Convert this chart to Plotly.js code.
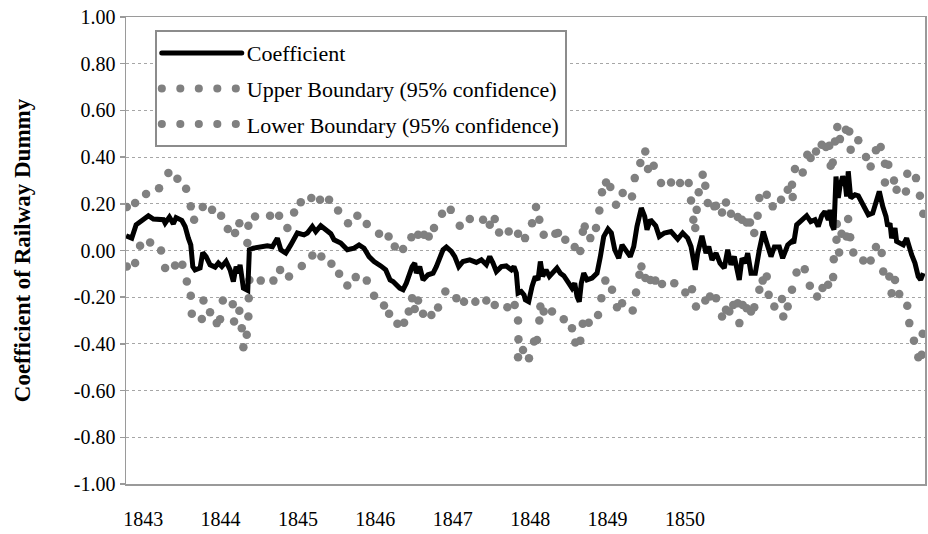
<!DOCTYPE html>
<html>
<head>
<meta charset="utf-8">
<script src="https://cdn.plot.ly/plotly-3.0.1.min.js"></script>
<style>
  html, body { margin: 0; padding: 0; background: #fff; }
  #chart { width: 928px; height: 534px; }
  .legendlines path { stroke-linecap: round; }
</style>
</head>
<body>
<div id="chart"></div>
<script>
// ---- Coefficient of railway dummy (horizontal position = time index) ----
const coefT = [
 1843.000,1843.056,1843.099,1843.138,1843.220,1843.269,1843.368,1843.385,1843.427,1843.466,
 1843.493,1843.549,1843.582,1843.614,1843.638,1843.658,1843.680,1843.730,1843.756,1843.789,
 1843.828,1843.878,1843.910,1843.944,1843.986,1844.026,1844.058,1844.085,1844.108,1844.124,
 1844.141,1844.157,1844.200,1844.216,1844.255,1844.328,1844.393,1844.443,1844.492,1844.526,
 1844.575,1844.624,1844.689,1844.755,1844.788,1844.837,1844.871,1844.920,1844.969,1845.019,
 1845.051,1845.117,1845.182,1845.249,1845.298,1845.347,1845.396,1845.446,1845.512,1845.561,
 1845.604,1845.633,1845.699,1845.732,1845.764,1845.798,1845.821,1845.847,1845.863,1845.896,
 1845.929,1845.978,1846.028,1846.060,1846.094,1846.126,1846.159,1846.208,1846.242,1846.281,
 1846.323,1846.390,1846.455,1846.504,1846.553,1846.587,1846.619,1846.652,1846.701,1846.750,
 1846.800,1846.826,1846.849,1846.866,1846.898,1846.925,1846.938,1846.971,1847.004,1847.036,
 1847.063,1847.086,1847.109,1847.142,1847.175,1847.218,1847.250,1847.283,1847.317,1847.366,
 1847.398,1847.425,1847.448,1847.470,1847.490,1847.514,1847.546,1847.596,1847.645,1847.678,
 1847.711,1847.753,1847.786,1847.820,1847.859,1847.892,1847.931,1847.973,1848.007,1848.039,
 1848.082,1848.115,1848.138,1848.171,1848.224,1848.259,1848.309,1848.375,1848.441,1848.490,
 1848.539,1848.572,1848.614,1848.638,1848.680,1848.720,1848.747,1848.779,1848.819,1848.858,
 1848.900,1848.934,1848.966,1848.999,1849.048,1849.075,1849.107,1849.131,1849.164,1849.206,
 1849.246,1849.285,1849.319,1849.361,1849.394,1849.443,1849.476,1849.526,1849.568,1849.585,
 1849.614,1849.664,1849.713,1849.753,1849.795,1849.827,1849.861,1849.893,1849.926,1849.943,
 1849.960,1849.982,1850.002,1850.025,1850.041,1850.068,1850.091,1850.107,1850.123,1850.147,
 1850.189,1850.222,1850.271,1850.321,1850.364,1850.396,1850.429,1850.463,1850.495,1850.512,
 1850.535,1850.551,1850.584,1850.600,1850.633,1850.666,1850.699,1850.725,1850.748,1850.781,
 1850.813,1850.837,1850.863
];
const coefficient = [
 0.063,0.053,0.110,0.124,0.149,0.135,0.132,0.117,0.143,0.114,
 0.141,0.129,0.103,0.053,0.024,-0.069,-0.083,-0.075,-0.009,-0.026,
 -0.061,-0.071,-0.054,-0.069,-0.047,-0.083,-0.133,-0.069,-0.097,-0.061,
 -0.140,-0.161,-0.171,0.003,0.010,0.015,0.020,0.016,0.053,0.003,
 -0.011,0.024,0.075,0.067,0.075,0.103,0.081,0.106,0.089,0.072,
 0.046,0.032,0.003,0.010,0.024,0.010,-0.026,-0.047,-0.066,-0.083,
 -0.126,-0.133,-0.161,-0.168,-0.140,-0.097,-0.069,-0.054,-0.097,-0.069,
 -0.126,-0.104,-0.097,-0.069,-0.033,0.003,0.015,-0.004,-0.026,-0.069,
 -0.047,-0.040,-0.051,-0.040,-0.061,-0.026,-0.054,-0.090,-0.069,-0.066,
 -0.083,-0.069,-0.097,-0.183,-0.176,-0.190,-0.211,-0.219,-0.154,-0.111,
 -0.126,-0.047,-0.111,-0.083,-0.111,-0.090,-0.075,-0.097,-0.108,-0.140,
 -0.161,-0.140,-0.197,-0.219,-0.140,-0.097,-0.126,-0.118,-0.097,-0.026,
 0.060,0.092,0.075,0.003,-0.033,0.024,0.003,-0.026,0.017,0.103,
 0.182,0.146,0.089,0.132,0.106,0.060,0.075,0.081,0.049,0.075,
 0.053,0.017,-0.083,-0.011,0.063,-0.011,0.017,-0.040,-0.011,-0.054,
 -0.075,0.003,-0.061,-0.026,-0.126,-0.033,-0.054,-0.011,-0.097,-0.097,
 0.003,0.081,0.032,-0.026,0.015,0.015,-0.033,0.024,0.040,0.032,
 0.110,0.132,0.149,0.124,0.132,0.103,0.149,0.167,0.132,0.174,
 0.110,0.089,0.317,0.225,0.274,0.317,0.296,0.231,0.339,0.225,
 0.239,0.234,0.196,0.153,0.160,0.210,0.253,0.189,0.146,0.103,
 0.117,0.053,0.096,0.039,0.032,0.024,0.053,0.003,-0.018,-0.054,
 -0.111,-0.126,-0.097
];

// ---- Upper boundary (95% confidence), as drawn dots ----
const upperT = [
 1843.007,1843.089,1843.197,1843.325,1843.417,1843.506,1843.592,1843.638,1843.671,1843.756,
 1843.848,1843.937,1844.003,1844.075,1844.117,1844.196,1844.206,1844.272,1844.420,1844.509,
 1844.591,1844.657,1844.723,1844.827,1844.913,1845.002,1845.091,1845.189,1845.281,1845.374,
 1845.495,1845.589,1845.650,1845.732,1845.814,1845.880,1845.939,1845.985,1846.037,1846.116,
 1846.202,1846.291,1846.390,1846.521,1846.587,1846.636,1846.679,1846.774,1846.866,1846.935,
 1847.004,1847.043,1847.076,1847.119,1847.234,1847.260,1847.332,1847.425,1847.480,1847.505,
 1847.524,1847.579,1847.635,1847.668,1847.694,1847.734,1847.776,1847.832,1847.898,1847.990,
 1848.017,1848.072,1848.121,1848.148,1848.204,1848.276,1848.375,1848.464,1848.549,1848.572,
 1848.595,1848.614,1848.628,1848.648,1848.687,1848.713,1848.737,1848.802,1848.819,1848.878,
 1848.917,1848.966,1849.033,1849.075,1849.121,1849.154,1849.196,1849.229,1849.246,1849.319,
 1849.378,1849.460,1849.526,1849.568,1849.575,1849.597,1849.674,1849.719,1849.752,1849.805,
 1849.861,1849.903,1849.936,1849.950,1849.970,1849.992,1850.015,1850.041,1850.100,1850.133,
 1850.147,1850.222,1850.298,1850.344,1850.396,1850.443,1850.485,1850.485,1850.518,1850.574,
 1850.600,1850.692,1850.705,1850.791,1850.830,1850.863
];
const upperBoundary = [
 0.186,0.203,0.242,0.267,0.332,0.307,0.264,0.189,0.132,0.186,
 0.174,0.149,0.092,0.075,0.117,0.032,0.106,0.146,0.149,0.149,
 0.096,0.163,0.207,0.225,0.217,0.217,0.171,0.117,0.149,0.113,
 0.072,0.060,0.017,0.006,0.057,0.067,0.067,0.060,0.096,0.157,
 0.174,0.106,0.135,0.132,0.110,0.135,0.077,0.081,0.072,0.053,
 0.117,0.186,0.132,0.067,0.072,0.075,0.046,0.015,-0.002,0.080,
 0.103,0.053,0.096,0.171,0.249,0.291,0.272,0.196,0.246,0.231,
 0.310,0.375,0.424,0.349,0.363,0.289,0.291,0.289,0.289,0.214,
 0.132,0.096,0.174,0.249,0.324,0.277,0.203,0.189,0.192,0.163,
 0.206,0.157,0.143,0.132,0.120,0.120,0.075,0.149,0.225,0.239,
 0.189,0.217,0.260,0.282,0.229,0.349,0.334,0.410,0.396,0.424,
 0.453,0.443,0.449,0.363,0.377,0.467,0.529,0.477,0.517,0.510,
 0.432,0.472,0.400,0.360,0.429,0.443,0.372,0.291,0.367,0.300,
 0.260,0.253,0.329,0.310,0.234,0.157
];

// ---- Lower boundary (95% confidence), as drawn dots ----
const lowerT = [
 1843.007,1843.089,1843.138,1843.237,1843.345,1843.385,1843.483,1843.555,1843.599,1843.638,
 1843.648,1843.747,1843.763,1843.828,1843.894,1843.927,1843.954,1844.052,1844.065,1844.117,
 1844.141,1844.157,1844.190,1844.206,1844.210,1844.216,1844.328,1844.453,1844.519,1844.607,
 1844.733,1844.837,1844.926,1845.025,1845.101,1845.182,1845.265,1845.374,1845.446,1845.544,
 1845.594,1845.676,1845.742,1845.788,1845.821,1845.847,1845.880,1845.929,1846.011,1846.077,
 1846.149,1846.258,1846.333,1846.445,1846.553,1846.636,1846.761,1846.833,1846.866,1846.870,
 1846.866,1846.915,1846.974,1847.024,1847.053,1847.076,1847.086,1847.119,1847.201,1847.317,
 1847.398,1847.431,1847.480,1847.504,1847.563,1847.655,1847.688,1847.727,1847.793,1847.842,
 1847.892,1847.997,1848.030,1848.063,1848.083,1848.122,1848.171,1848.220,1848.286,1848.407,
 1848.516,1848.582,1848.621,1848.713,1848.759,1848.819,1848.878,1848.917,1848.950,1848.989,
 1849.033,1849.049,1849.082,1849.121,1849.164,1849.196,1849.246,1849.279,1849.319,1849.338,
 1849.394,1849.469,1849.482,1849.526,1849.568,1849.613,1849.694,1849.744,1849.816,1849.869,
 1849.924,1849.974,1849.980,1850.007,1850.010,1850.033,1850.057,1850.106,1850.122,1850.142,
 1850.173,1850.271,1850.344,1850.396,1850.453,1850.468,1850.528,1850.551,1850.584,1850.626,
 1850.705,1850.725,1850.771,1850.814,1850.847,1850.857
];
const lowerBoundary = [
 -0.069,-0.054,0.020,0.034,0.000,-0.075,-0.064,-0.061,-0.133,-0.194,
 -0.271,-0.293,-0.214,-0.264,-0.311,-0.294,-0.214,-0.230,-0.304,-0.258,
 -0.333,-0.414,-0.361,-0.283,-0.204,-0.126,-0.129,-0.129,-0.083,-0.111,
 -0.066,-0.021,-0.026,-0.057,-0.100,-0.150,-0.114,-0.129,-0.194,-0.236,
 -0.271,-0.314,-0.309,-0.261,-0.204,-0.251,-0.214,-0.271,-0.276,-0.244,
 -0.176,-0.204,-0.219,-0.219,-0.214,-0.233,-0.243,-0.233,-0.300,-0.380,
 -0.457,-0.426,-0.461,-0.390,-0.383,-0.300,-0.240,-0.261,-0.261,-0.294,
 -0.333,-0.394,-0.386,-0.314,-0.309,-0.276,-0.204,-0.129,-0.168,-0.243,
 -0.226,-0.257,-0.180,-0.104,-0.069,-0.118,-0.126,-0.129,-0.143,-0.140,
 -0.180,-0.166,-0.240,-0.214,-0.197,-0.204,-0.283,-0.254,-0.261,-0.233,
 -0.226,-0.311,-0.233,-0.247,-0.261,-0.243,-0.168,-0.129,-0.111,-0.190,
 -0.240,-0.208,-0.283,-0.240,-0.168,-0.094,-0.080,-0.151,-0.197,-0.161,
 -0.147,-0.114,-0.037,0.046,0.114,-0.009,0.072,0.060,0.135,0.057,
 -0.009,-0.043,-0.043,0.015,-0.011,-0.090,-0.111,-0.183,-0.126,-0.186,
 -0.237,-0.311,-0.386,-0.457,-0.447,-0.357
];

// ---- Axis tick labels (category labels placed along the time index) ----
const yearLabels = ['1843', '1844', '1845', '1846', '1847', '1848', '1849', '1850'];
const yearLabelAt = [1843.168, 1843.931, 1844.695, 1845.458, 1846.222, 1846.986, 1847.749, 1848.513];
const yTickVals = [-1, -0.8, -0.6, -0.4, -0.2, 0, 0.2, 0.4, 0.6, 0.8, 1];
const yTickLabels = ['-1.00', '-0.80', '-0.60', '-0.40', '-0.20', '0.00', '0.20', '0.40', '0.60', '0.80', '1.00'];

const seriesNames = ['Coefficient', 'Upper Boundary (95% confidence)', 'Lower Boundary (95% confidence)'];

const SERIF = 'Liberation Serif';
const GREY = '#808080';
const AXIS = '#9a9a9a';
const xRange = [1842.999, 1850.88];
const dotDash = '0.1px,18.4px';

const traces = [
  { x: upperT, y: upperBoundary, type: 'scatter', mode: 'markers', name: seriesNames[1],
    marker: { color: GREY, size: 8.5 }, showlegend: false },
  { x: lowerT, y: lowerBoundary, type: 'scatter', mode: 'markers', name: seriesNames[2],
    marker: { color: GREY, size: 8.5 }, showlegend: false },
  { x: coefT, y: coefficient, type: 'scatter', mode: 'lines', name: seriesNames[0],
    line: { color: '#000', width: 5 }, legendrank: 1, legendgroup: 'a' },
  { x: [null], y: [null], type: 'scatter', mode: 'lines', name: seriesNames[1],
    line: { color: GREY, width: 8, dash: dotDash }, legendrank: 2, legendgroup: 'b' },
  { x: [null], y: [null], type: 'scatter', mode: 'lines', name: seriesNames[2],
    line: { color: GREY, width: 8, dash: dotDash }, legendrank: 3, legendgroup: 'c' }
];

const layout = {
  width: 928, height: 534,
  margin: { l: 126, r: 3, t: 17, b: 50 },
  paper_bgcolor: '#fff', plot_bgcolor: '#fff',
  font: { family: SERIF, size: 20, color: '#000' },
  showlegend: true,
  legend: {
    x: 0.036, y: 0.972, xanchor: 'left', yanchor: 'top',
    bgcolor: '#fff', bordercolor: '#8c8c8c', borderwidth: 2,
    font: { family: SERIF, size: 22, color: '#000' },
    itemwidth: 80, tracegroupgap: 4, traceorder: 'grouped'
  },
  xaxis: {
    range: xRange, tickvals: yearLabelAt, ticktext: yearLabels,
    ticks: 'outside', ticklen: 16, tickcolor: 'rgba(0,0,0,0)',
    tickfont: { family: SERIF, size: 20, color: '#000' },
    showline: true, mirror: true, linecolor: AXIS, linewidth: 1.5,
    showgrid: false, zeroline: false
  },
  xaxis2: {
    overlaying: 'x', anchor: 'free', position: 0.5, side: 'bottom',
    range: xRange, tick0: 1843, dtick: 0.5,
    ticks: 'outside', ticklen: 5, tickwidth: 1.5, tickcolor: AXIS,
    showline: true, linecolor: AXIS, linewidth: 2,
    showticklabels: false, showgrid: false, zeroline: false
  },
  yaxis: {
    range: [-1, 1], tickvals: yTickVals, ticktext: yTickLabels,
    ticks: 'outside', ticklen: 5, tickcolor: AXIS, tickwidth: 1.5,
    tickfont: { family: SERIF, size: 20, color: '#000' },
    showline: true, mirror: true, linecolor: AXIS, linewidth: 1.5,
    showgrid: true, gridcolor: '#a6a6a6', griddash: 'dot', gridwidth: 1,
    zeroline: false,
    title: { text: 'Coefficient of Railway Dummy', standoff: 37,
             font: { family: SERIF, size: 23, weight: 'bold', color: '#000' } }
  }
};

Plotly.newPlot('chart', traces, layout, { displayModeBar: false, staticPlot: true });
</script>
</body>
</html>
